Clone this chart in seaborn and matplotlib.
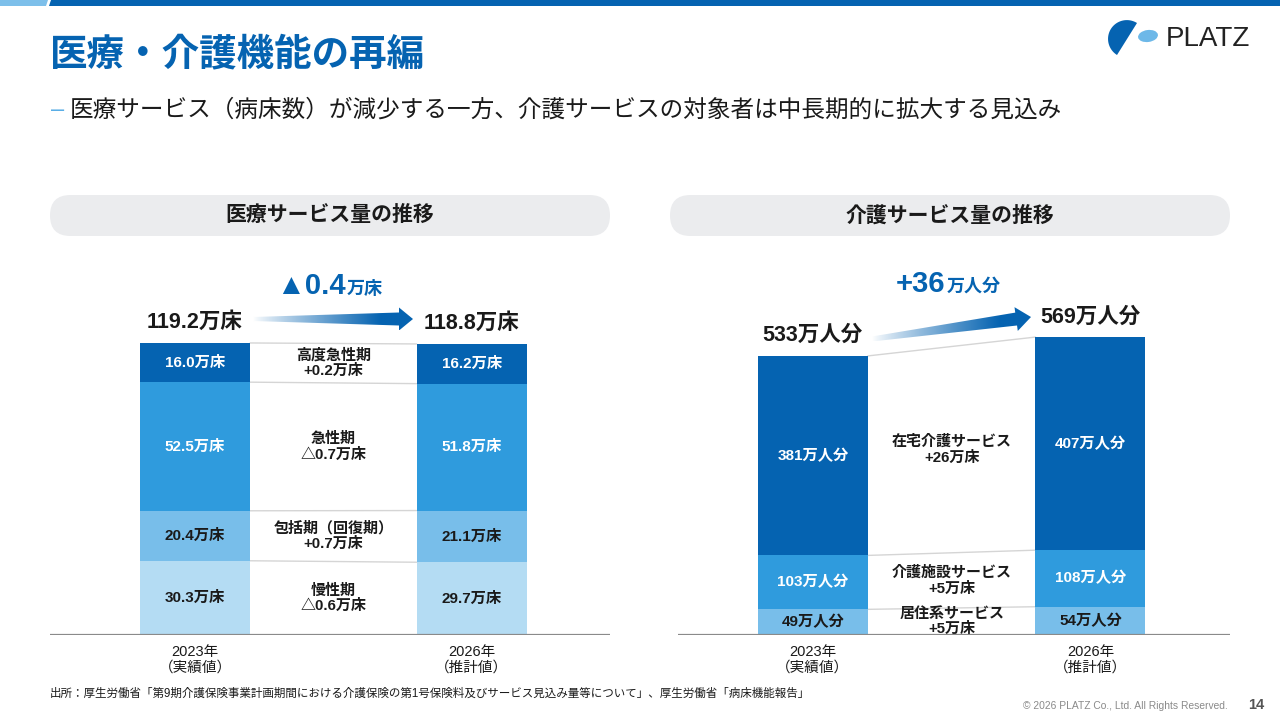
import numpy as np
import matplotlib.pyplot as plt
import seaborn as sns
from matplotlib.patches import Polygon, FancyBboxPatch, Ellipse

# ------------------------------
# Data
# ------------------------------
years = ["2023年\n（実績値）", "2026年\n（推計値）"]

# medical beds, bottom -> top
med_stages = ["慢性期", "包括期（回復期）", "急性期", "高度急性期"]
med_2023 = [30.3, 20.4, 52.5, 16.0]
med_2026 = [29.7, 21.1, 51.8, 16.2]

# care service users, bottom -> top
care_types = ["居住系サービス", "介護施設サービス", "在宅介護サービス"]
care_2023 = [49, 103, 381]
care_2026 = [54, 108, 407]

# ------------------------------
# Style
# ------------------------------
BLUE = "#0563B1"
INK = "#1a1a1a"
med_colors = ["#B4DCF3", "#78BEEA", "#2F9BDD", BLUE]
med_tcolors = [INK, INK, "white", "white"]
care_colors = ["#78BEEA", "#2F9BDD", BLUE]
care_tcolors = [INK, "white", "white"]

sns.set_theme(style="white")
plt.rcParams["font.family"] = ["Liberation Sans", "Noto Sans CJK JP", "DejaVu Sans"]

W, H = 1280, 720
fig = plt.figure(figsize=(12.8, 7.2), dpi=100)
fig.patch.set_facecolor("white")


def Y(py):
    # slide pixel row -> overlay y
    return H - py


# overlay axes in slide pixels for the decoration
ax0 = fig.add_axes([0, 0, 1, 1])
ax0.set_axis_off()


def grad_arrow(ax, p0, p1, w0, w1, head_w, head_l):
    p0 = np.array(p0, float)
    p1 = np.array(p1, float)
    d = p1 - p0
    L = np.hypot(*d)
    u = d / L
    n = np.array([-u[1], u[0]])
    sh = L - head_l
    local = [(0, -w0 / 2), (sh, -w1 / 2), (sh, -head_w / 2), (L, 0),
             (sh, head_w / 2), (sh, w1 / 2), (0, w0 / 2)]
    pts = np.array([p0 + s * u + t * n for s, t in local])
    patch = Polygon(pts, closed=True, fc="none", ec="none")
    ax.add_patch(patch)
    t = np.linspace(0, 1, 256)
    ramp = np.clip(t / 0.8, 0, 1) ** 0.85
    white = np.array([1.0, 1.0, 1.0])
    blue = np.array([5, 99, 177]) / 255
    rgb = white[None, :] * (1 - ramp[:, None]) + blue[None, :] * ramp[:, None]
    im = ax.imshow(rgb[None, :, :], aspect="auto", interpolation="bilinear",
                   extent=[pts[:, 0].min(), pts[:, 0].max(), pts[:, 1].min(), pts[:, 1].max()],
                   zorder=3)
    im.set_clip_path(patch)


# top stripe
ax0.add_patch(Polygon([(0, Y(0)), (48, Y(0)), (46, Y(6)), (0, Y(6))], color="#7DBFEA", lw=0))
ax0.add_patch(Polygon([(51, Y(0)), (W, Y(0)), (W, Y(6)), (49, Y(6))], color=BLUE, lw=0))

# title / subtitle
ax0.text(50, Y(55), "医療・介護機能の再編", fontsize=27, fontweight="bold", color=BLUE,
         ha="left", va="center")
ax0.text(51, Y(110), "–", fontsize=17, color="#5AAEE6", ha="left", va="center")
ax0.text(70, Y(110), "医療サービス（病床数）が減少する一方、介護サービスの対象者は中長期的に拡大する見込み",
         fontsize=17, color=INK, ha="left", va="center")

# logo
A = np.array([1137, 23.0])
B = np.array([1117, 55.0])
M = (A + B) / 2
u = (A - B) / np.hypot(*(A - B))
nrm = np.array([-u[1], u[0]])
if nrm[0] > 0:
    nrm = -nrm
tt = np.linspace(0, np.pi, 60)
a_len = np.hypot(*(A - B)) / 2
shape = [M + a_len * np.cos(k) * u + 19 * np.sin(k) * nrm for k in tt]
ax0.add_patch(Polygon([(x, Y(y)) for x, y in shape], closed=True, color=BLUE, lw=0))
ax0.add_patch(Ellipse((1148, Y(36)), 20, 12, angle=8, color="#6DB8E8", lw=0))
ax0.text(1166, Y(39), "PLATZ", fontsize=20, color="#222222", ha="left", va="center")

# panel headers
for x0, label in ((50, "医療サービス量の推移"), (670, "介護サービス量の推移")):
    ax0.add_patch(FancyBboxPatch((x0, Y(236)), 560, 41,
                                 boxstyle="round,pad=0,rounding_size=20.5",
                                 fc="#EBECEE", ec="none"))
    ax0.text(x0 + 280, Y(215), label, fontsize=15, fontweight="bold", color=INK,
             ha="center", va="center")

# change arrows and labels
grad_arrow(ax0, (253, Y(319)), (413, Y(319)), 4, 13, 23, 14)
grad_arrow(ax0, (872, Y(339)), (1031, Y(317)), 5, 13, 24, 15)

med_change = sum(med_2026) - sum(med_2023)
care_change = sum(care_2026) - sum(care_2023)
med_sign = "+" if med_change >= 0 else "▲"
care_sign = "+" if care_change >= 0 else "▲"
ax0.text(346, Y(294), f"{med_sign}{abs(med_change):.1f}", fontsize=21, fontweight="bold",
         color=BLUE, ha="right", va="baseline")
ax0.text(347, Y(294), "万床", fontsize=13, fontweight="bold", color=BLUE, ha="left", va="baseline")
ax0.text(945, Y(292), f"{care_sign}{abs(care_change):.0f}", fontsize=21, fontweight="bold",
         color=BLUE, ha="right", va="baseline")
ax0.text(947, Y(292), "万人分", fontsize=13, fontweight="bold", color=BLUE, ha="left", va="baseline")

# footer
ax0.text(50, Y(694), "出所：厚生労働省「第9期介護保険事業計画期間における介護保険の第1号保険料及びサービス見込み量等について」、厚生労働省「病床機能報告」",
         fontsize=8.3, color=INK, ha="left", va="center")
ax0.text(1228, Y(706), "© 2026 PLATZ Co., Ltd. All Rights Reserved.", fontsize=7.4,
         color="#8A8A8A", ha="right", va="center")
ax0.text(1256, Y(705), "14", fontsize=10.5, fontweight="bold", color="#555555",
         ha="center", va="center")

ax0.set_xlim(0, W)
ax0.set_ylim(0, H)


# ------------------------------
# Stacked bar panels
# ------------------------------
def draw_stack(ax, v0, v1, names, colors, tcolors, bar_unit, diff_unit, fmt, width, total_unit):
    c0, c1 = np.cumsum(v0), np.cumsum(v1)
    # tallest layer first, lower layers are drawn over it
    for i in range(len(v0) - 1, -1, -1):
        sns.barplot(x=years, y=[c0[i], c1[i]], color=colors[i], width=width,
                    saturation=1, errorbar=None, linewidth=0, ax=ax, zorder=2)
    b0 = np.concatenate([[0], c0])
    b1 = np.concatenate([[0], c1])
    for i in range(len(v0)):
        for x, lo, v in ((0, b0[i], v0[i]), (1, b1[i], v1[i])):
            ax.text(x, lo + v / 2, f"{v:{fmt}}{bar_unit}", fontsize=11, fontweight="bold",
                    color=tcolors[i], ha="center", va="center", zorder=4)
        ax.plot([width / 2, 1 - width / 2], [c0[i], c1[i]], color="#D5D5D5", lw=1, zorder=1)
        d = v1[i] - v0[i]
        sign = "+" if d >= 0 else "△"
        ax.text(0.5, (b0[i] + c0[i] + b1[i] + c1[i]) / 4,
                f"{names[i]}\n{sign}{abs(d):{fmt}}{diff_unit}", fontsize=10.8,
                fontweight="bold", color=INK, ha="center", va="center",
                linespacing=1.15, zorder=4)
    for x, tot in ((0, c0[-1]), (1, c1[-1])):
        ax.annotate(f"{tot:{fmt}}{total_unit}", (x, tot), xytext=(0, 14.5),
                    textcoords="offset points", ha="center", va="center",
                    fontsize=15.5, fontweight="bold", color=INK, annotation_clip=False)
    ax.axhline(0, color="#8A8A8A", lw=1.6, zorder=5)
    ax.set_xlabel("")
    ax.set_ylabel("")
    ax.set_yticks([])
    ax.tick_params(axis="x", length=0, pad=7, labelsize=10.5, labelcolor=INK)
    ax.set_facecolor("none")
    sns.despine(ax=ax, left=True, bottom=True)


ax1 = fig.add_axes([50 / W, 85 / H, 560 / W, 355 / H])
draw_stack(ax1, med_2023, med_2026, med_stages, med_colors, med_tcolors,
           "万床", "万床", ".1f", 0.398, "万床")
ax1.set_xlim(-0.524, 1.50)
ax1.set_ylim(0, 144.9)

ax2 = fig.add_axes([678 / W, 85 / H, 552 / W, 355 / H])
draw_stack(ax2, care_2023, care_2026, care_types, care_colors, care_tcolors,
           "万人分", "万床", ".0f", 0.396, "万人分")
ax2.set_xlim(-0.486, 1.503)
ax2.set_ylim(0, 678)

fig.savefig("out.png", dpi=100, facecolor="white")
